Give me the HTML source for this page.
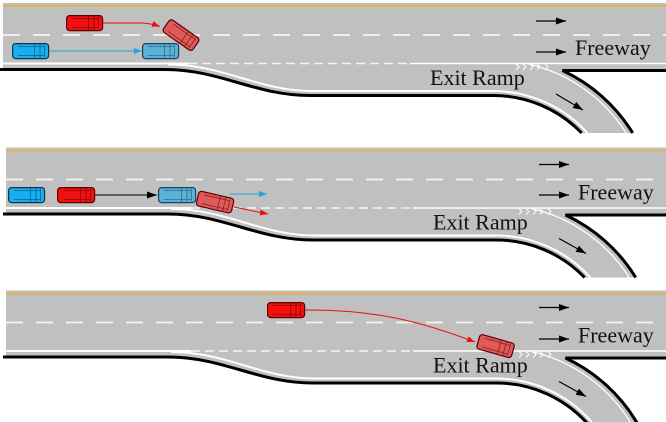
<!DOCTYPE html>
<html><head><meta charset="utf-8"><style>
html,body{margin:0;padding:0;background:#fff;}
svg{display:block;}
text{font-family:"Liberation Serif","Times New Roman",serif;font-size:22px;fill:#111;}
</style></head><body>
<svg width="666" height="422" viewBox="0 0 666 422" xmlns="http://www.w3.org/2000/svg">
<defs>
<marker id="mk" markerUnits="userSpaceOnUse" markerWidth="11" markerHeight="8" refX="10" refY="4" orient="auto"><path d="M0,0.5 L10,4 L0,7.5 Z" fill="#000"/></marker>
<marker id="mr" markerUnits="userSpaceOnUse" markerWidth="9" markerHeight="7" refX="8" refY="3.5" orient="auto"><path d="M0,0.5 L8,3.5 L0,6.5 Z" fill="#e81010"/></marker>
<marker id="mb" markerUnits="userSpaceOnUse" markerWidth="9" markerHeight="7" refX="8" refY="3.5" orient="auto"><path d="M0,0.5 L8,3.5 L0,6.5 Z" fill="#2aa0e0"/></marker>
</defs>

<!-- PANEL 1 -->
<g>
<path d="M3,3 H666 V70 H562.5 A163.5,163.5 0 0 1 632.7,133 H581.9 A123,123 0 0 0 493,95 H310 C255,95 220,69 165,69 H3 Z" fill="#c0c0c0"/>
<line x1="3" y1="6" x2="666" y2="6" stroke="#e3b24a" stroke-width="1.8"/>
<line x1="3" y1="35" x2="666" y2="35" stroke="#f4f4f4" stroke-width="1.8" stroke-dasharray="17 13"/>
<path d="M3,63.5 H188" stroke="#fff" stroke-width="2" fill="none"/>
<path d="M188,63.5 H410" stroke="#f4f4f4" stroke-width="1.6" stroke-dasharray="9 5" fill="none"/>
<path d="M410,63.5 H666" stroke="#fff" stroke-width="1.6" fill="none"/>
<path d="M168,64.5 C224,64.5 258,91 312,91 H493 A127,127 0 0 1 587.4,133" stroke="#fff" stroke-width="2" fill="none"/>
<path d="M528.3,64 A158,158 0 0 1 626.2,133" stroke="#fff" stroke-width="1.3" fill="none"/>
<path d="M516,64 L519,67 L516,70 M523,64 L526,67 L523,70 M530,64 L533,67 L530,70 M537,64 L540,67 L537,70 M545,64 L548,67 L545,70" stroke="#fff" stroke-width="1" fill="none"/>
<path d="M0,69.5 H165 C220,69.5 255,95.5 310,95.5 H493 A122.5,122.5 0 0 1 581.6,133" stroke="#000" stroke-width="3" fill="none"/>
<path d="M666,70.5 H562.5 A163.5,163.5 0 0 1 632.7,133" stroke="#000" stroke-width="3" fill="none" stroke-linejoin="miter"/>
<line x1="536" y1="21" x2="566" y2="21" stroke="#000" stroke-width="1.2" marker-end="url(#mk)"/>
<line x1="536" y1="52" x2="566" y2="52" stroke="#000" stroke-width="1.2" marker-end="url(#mk)"/>
<line x1="556" y1="94" x2="583" y2="110" stroke="#000" stroke-width="1.2" marker-end="url(#mk)"/>
<text x="575" y="55">Freeway</text>
<text x="430" y="85">Exit Ramp</text>
</g>

<!-- PANEL 2 -->
<g transform="translate(3,144.5)">
<path d="M3,3 H666 V70 H562.5 A163.5,163.5 0 0 1 632.7,133 H581.9 A123,123 0 0 0 493,95 H310 C255,95 220,69 165,69 H3 Z" fill="#c0c0c0"/>
<line x1="3" y1="6" x2="666" y2="6" stroke="#e3b24a" stroke-width="1.8"/>
<line x1="3" y1="35" x2="666" y2="35" stroke="#f4f4f4" stroke-width="1.8" stroke-dasharray="17 13"/>
<path d="M3,63.5 H188" stroke="#fff" stroke-width="2" fill="none"/>
<path d="M188,63.5 H410" stroke="#f4f4f4" stroke-width="1.6" stroke-dasharray="9 5" fill="none"/>
<path d="M410,63.5 H666" stroke="#fff" stroke-width="1.6" fill="none"/>
<path d="M168,64.5 C224,64.5 258,91 312,91 H493 A127,127 0 0 1 587.4,133" stroke="#fff" stroke-width="2" fill="none"/>
<path d="M528.3,64 A158,158 0 0 1 626.2,133" stroke="#fff" stroke-width="1.3" fill="none"/>
<path d="M516,64 L519,67 L516,70 M523,64 L526,67 L523,70 M530,64 L533,67 L530,70 M537,64 L540,67 L537,70 M545,64 L548,67 L545,70" stroke="#fff" stroke-width="1" fill="none"/>
<path d="M0,69.5 H165 C220,69.5 255,95.5 310,95.5 H493 A122.5,122.5 0 0 1 581.6,133" stroke="#000" stroke-width="3" fill="none"/>
<path d="M666,70.5 H562.5 A163.5,163.5 0 0 1 632.7,133" stroke="#000" stroke-width="3" fill="none"/>
<line x1="536" y1="20" x2="566" y2="20" stroke="#000" stroke-width="1.2" marker-end="url(#mk)"/>
<line x1="536" y1="50.5" x2="566" y2="50.5" stroke="#000" stroke-width="1.2" marker-end="url(#mk)"/>
<line x1="556" y1="94" x2="583" y2="109" stroke="#000" stroke-width="1.2" marker-end="url(#mk)"/>
<text x="575" y="55">Freeway</text>
<text x="430" y="85">Exit Ramp</text>
</g>

<!-- PANEL 3 -->
<g transform="translate(3,287.5)">
<path d="M3,3 H666 V70 H562.5 A163.5,163.5 0 0 1 634.4,136 H584.7 A123,123 0 0 0 493,95 H310 C255,95 220,69 165,69 H3 Z" fill="#c0c0c0"/>
<line x1="3" y1="6" x2="666" y2="6" stroke="#e3b24a" stroke-width="1.8"/>
<line x1="3" y1="35" x2="666" y2="35" stroke="#f4f4f4" stroke-width="1.8" stroke-dasharray="17 13"/>
<path d="M3,63.5 H188" stroke="#fff" stroke-width="2" fill="none"/>
<path d="M188,63.5 H410" stroke="#f4f4f4" stroke-width="1.6" stroke-dasharray="9 5" fill="none"/>
<path d="M410,63.5 H666" stroke="#fff" stroke-width="1.6" fill="none"/>
<path d="M168,64.5 C224,64.5 258,91 312,91 H493 A127,127 0 0 1 590,136" stroke="#fff" stroke-width="2" fill="none"/>
<path d="M528.3,64 A158,158 0 0 1 628.1,136" stroke="#fff" stroke-width="1.3" fill="none"/>
<path d="M516,64 L519,67 L516,70 M523,64 L526,67 L523,70 M530,64 L533,67 L530,70 M537,64 L540,67 L537,70 M545,64 L548,67 L545,70" stroke="#fff" stroke-width="1" fill="none"/>
<path d="M0,69.5 H165 C220,69.5 255,95.5 310,95.5 H493 A122.5,122.5 0 0 1 584.4,136" stroke="#000" stroke-width="3" fill="none"/>
<path d="M666,70.5 H562.5 A163.5,163.5 0 0 1 634.4,136" stroke="#000" stroke-width="3" fill="none"/>
<line x1="536" y1="20" x2="566" y2="20" stroke="#000" stroke-width="1.2" marker-end="url(#mk)"/>
<line x1="536" y1="51.5" x2="566" y2="51.5" stroke="#000" stroke-width="1.2" marker-end="url(#mk)"/>
<line x1="556" y1="94" x2="583" y2="109" stroke="#000" stroke-width="1.2" marker-end="url(#mk)"/>
<text x="575" y="55">Freeway</text>
<text x="430" y="85">Exit Ramp</text>
</g>

<!-- CARS & TRAJECTORIES: PANEL 1 -->
<path d="M103,23 H140 Q150,23 160,26.5" stroke="#e81010" stroke-width="1" fill="none" marker-end="url(#mr)"/>
<line x1="49" y1="51" x2="142" y2="51" stroke="#2aa0e0" stroke-width="1" marker-end="url(#mb)"/>
<g transform="translate(66,15)"><rect x="0.6" y="0.6" width="36" height="15" rx="3" fill="#f01010" stroke="#5a0000" stroke-width="1.2"/><path d="M6,3.5 H32 M6,12.5 H32 M22.5,1 V15 M28,1 V15 M32.5,2 V14" stroke="#5a0000" stroke-width="0.8" fill="none" opacity="0.65"/></g>
<g transform="translate(12,43)"><rect x="0.6" y="0.6" width="36" height="15" rx="3" fill="#18aef0" stroke="#0a3550" stroke-width="1.2"/><path d="M6,3.5 H32 M6,12.5 H32 M22.5,1 V15 M28,1 V15 M32.5,2 V14" stroke="#0a3550" stroke-width="0.8" fill="none" opacity="0.65"/></g>
<g transform="translate(142,43)"><rect x="0.6" y="0.6" width="36" height="15" rx="3" fill="#5ab2d8" stroke="#1a4560" stroke-width="1.2"/><path d="M6,3.5 H32 M6,12.5 H32 M22.5,1 V15 M28,1 V15 M32.5,2 V14" stroke="#1a4560" stroke-width="0.8" fill="none" opacity="0.65"/></g>
<g transform="translate(181,35) rotate(35) translate(-18.5,-8)"><rect x="0.6" y="0.6" width="36" height="15" rx="3" fill="#e05a5a" stroke="#600000" stroke-width="1.2"/><path d="M6,3.5 H32 M6,12.5 H32 M22.5,1 V15 M28,1 V15 M32.5,2 V14" stroke="#600000" stroke-width="0.8" fill="none" opacity="0.65"/></g>

<!-- PANEL 2 -->
<line x1="95" y1="195" x2="157" y2="195" stroke="#000" stroke-width="1" marker-end="url(#mk)"/>
<line x1="230" y1="194" x2="267" y2="194" stroke="#2aa0e0" stroke-width="1" marker-end="url(#mb)"/>
<line x1="234" y1="207" x2="268" y2="214" stroke="#e81010" stroke-width="1" marker-end="url(#mr)"/>
<g transform="translate(8,187)"><rect x="0.6" y="0.6" width="36" height="15" rx="3" fill="#18aef0" stroke="#0a3550" stroke-width="1.2"/><path d="M6,3.5 H32 M6,12.5 H32 M22.5,1 V15 M28,1 V15 M32.5,2 V14" stroke="#0a3550" stroke-width="0.8" fill="none" opacity="0.65"/></g>
<g transform="translate(57,187)"><rect x="0.6" y="0.6" width="37" height="15" rx="3" fill="#f01010" stroke="#5a0000" stroke-width="1.2"/><path d="M6,3.5 H33 M6,12.5 H33 M23.5,1 V15 M29,1 V15 M33.5,2 V14" stroke="#5a0000" stroke-width="0.8" fill="none" opacity="0.65"/></g>
<g transform="translate(158,187)"><rect x="0.6" y="0.6" width="37" height="15" rx="3" fill="#5ab2d8" stroke="#1a4560" stroke-width="1.2"/><path d="M6,3.5 H33 M6,12.5 H33 M23.5,1 V15 M29,1 V15 M33.5,2 V14" stroke="#1a4560" stroke-width="0.8" fill="none" opacity="0.65"/></g>
<g transform="translate(215,202) rotate(13) translate(-18.5,-8)"><rect x="0.6" y="0.6" width="36" height="15" rx="3" fill="#e05a5a" stroke="#600000" stroke-width="1.2"/><path d="M6,3.5 H32 M6,12.5 H32 M22.5,1 V15 M28,1 V15 M32.5,2 V14" stroke="#600000" stroke-width="0.8" fill="none" opacity="0.65"/></g>

<!-- PANEL 3 -->
<path d="M305,310 C380,309 430,325 475,342" stroke="#e81010" stroke-width="1" fill="none" marker-end="url(#mr)"/>
<g transform="translate(267,302)"><rect x="0.6" y="0.6" width="37" height="15" rx="3" fill="#f01010" stroke="#5a0000" stroke-width="1.2"/><path d="M6,3.5 H33 M6,12.5 H33 M23.5,1 V15 M29,1 V15 M33.5,2 V14" stroke="#5a0000" stroke-width="0.8" fill="none" opacity="0.65"/></g>
<g transform="translate(495.5,346) rotate(16) translate(-18.5,-8)"><rect x="0.6" y="0.6" width="36" height="15" rx="3" fill="#e05a5a" stroke="#600000" stroke-width="1.2"/><path d="M6,3.5 H32 M6,12.5 H32 M22.5,1 V15 M28,1 V15 M32.5,2 V14" stroke="#600000" stroke-width="0.8" fill="none" opacity="0.65"/></g>
</svg>
</body></html>
